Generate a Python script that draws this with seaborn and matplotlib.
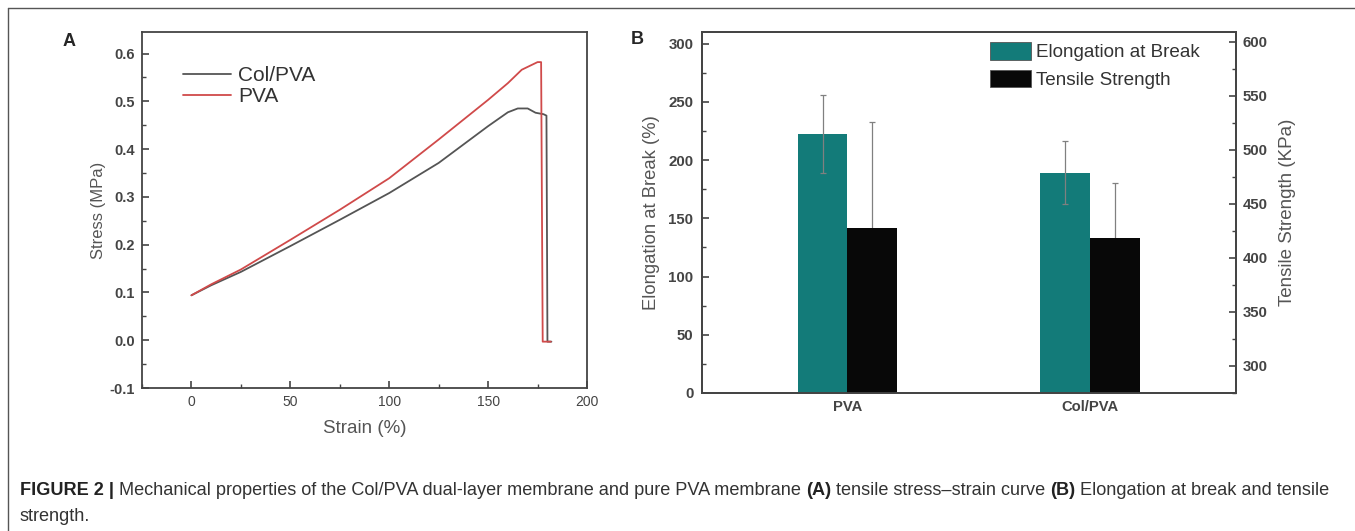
import numpy as np
import pandas as pd
import matplotlib
matplotlib.use("Agg")
import matplotlib.pyplot as plt
from matplotlib.lines import Line2D
from matplotlib.ticker import MultipleLocator
import seaborn as sns

# Panel A: stress-strain curves
colpva_strain = [0, 10, 25, 50, 75, 100, 125, 150, 160, 165, 170, 174, 178, 179.5, 180, 182]
colpva_stress = [0.094, 0.115, 0.143, 0.197, 0.252, 0.308, 0.371, 0.448, 0.477, 0.485,
                 0.485, 0.476, 0.473, 0.470, -0.003, -0.003]
pva_strain = [0, 10, 25, 50, 75, 100, 125, 150, 160, 167, 175, 176.8, 177.6, 181.7]
pva_stress = [0.094, 0.117, 0.148, 0.210, 0.273, 0.339, 0.420, 0.503, 0.538, 0.566,
              0.582, 0.582, -0.003, -0.003]

# Panel B: bars
samples = ["PVA", "Col/PVA"]
elongation = [222, 189]
elongation_err = [33.5, 27]
tensile = [428, 418]
tensile_err = [98, 51.5]

sns.set_theme(style="ticks")
plt.rcParams['font.family'] = ['Liberation Sans', 'DejaVu Sans']
plt.rcParams['xtick.direction'] = 'in'
plt.rcParams['ytick.direction'] = 'in'

W, H = 1355, 531
gray_txt = "#444444"
fig = plt.figure(figsize=(W / 100, H / 100), dpi=100)

# ---------- panel A ----------
axA = fig.add_axes([142 / W, 1 - 388 / H, 445 / W, 356 / H])
curves = pd.concat([
    pd.DataFrame({"strain": colpva_strain, "stress": colpva_stress, "sample": "Col/PVA"}),
    pd.DataFrame({"strain": pva_strain, "stress": pva_stress, "sample": "PVA"}),
])
sns.lineplot(data=curves, x="strain", y="stress", hue="sample", sort=False,
             palette={"Col/PVA": "#555555", "PVA": "#d04a4a"}, linewidth=1.3,
             estimator=None, ax=axA)
axA.set_xlim(-25, 200)
axA.set_ylim(-0.1, 0.645)
axA.xaxis.set_major_locator(MultipleLocator(50))
axA.xaxis.set_minor_locator(MultipleLocator(25))
yt = np.round(np.arange(-0.1, 0.61, 0.1), 1)
axA.set_yticks(yt)
axA.set_yticklabels([f"{v:.1f}" for v in yt])
axA.yaxis.set_minor_locator(MultipleLocator(0.05))
axA.set_xlabel("Strain (%)", fontsize=13.5, color="#555555", labelpad=8)
axA.set_ylabel("Stress (MPa)", fontsize=12, color="#555555", labelpad=3)
axA.tick_params(which="major", length=5, width=1.2, labelcolor=gray_txt, color="#444444", pad=5)
axA.tick_params(axis="x", labelsize=10)
axA.tick_params(axis="y", labelsize=10.5)
axA.tick_params(which="minor", length=3, width=1, color="#444444")
for lab in axA.get_yticklabels():
    lab.set_fontweight("bold")
for s in axA.spines.values():
    s.set_visible(True)
    s.set_color("#444444")
    s.set_linewidth(1.3)
axA.legend(loc="upper left", bbox_to_anchor=((183 - 142) / 445, (388 - 66) / 356), frameon=False,
           fontsize=15, handlelength=2.3, handletextpad=0.33, labelspacing=0.12,
           borderpad=0, borderaxespad=0, labelcolor="#333333")

# ---------- panel B ----------
axB = fig.add_axes([701.7 / W, 1 - 393 / H, 534.3 / W, 361 / H])
axB2 = axB.twinx()
hue_order = ["Elongation at Break", "Tensile Strength"]
colors = {"Elongation at Break": "#137b79", "Tensile Strength": "#080808"}
df_el = pd.DataFrame({"sample": samples, "value": elongation, "series": "Elongation at Break"})
df_ts = pd.DataFrame({"sample": samples, "value": tensile, "series": "Tensile Strength"})

sns.barplot(data=df_el, x="sample", y="value", hue="series", hue_order=hue_order,
            order=samples, palette=colors, width=0.41, dodge=True, saturation=1,
            errorbar=None, linewidth=0, ax=axB, legend=False)
sns.barplot(data=df_ts, x="sample", y="value", hue="series", hue_order=hue_order,
            order=samples, palette=colors, width=0.41, dodge=True, saturation=1,
            errorbar=None, linewidth=0, ax=axB2, legend=False)

# error bars at bar centres
for ax, vals, errs, z in [(axB, elongation, elongation_err, 3), (axB2, tensile, tensile_err, 0)]:
    bars = [p for p in ax.patches if p.get_height() > 0]
    bars = sorted(bars, key=lambda p: p.get_x())
    xs = [p.get_x() + p.get_width() / 2 for p in bars]
    ax.errorbar(xs, vals, yerr=errs, fmt="none", ecolor="#808080", elinewidth=0.9,
                capsize=2.5, capthick=0.9, zorder=z)

axB.set_xlim(-0.6, 1.6)
axB.set_ylim(0, 310)
axB2.set_ylim(275, 609)
axB.yaxis.set_major_locator(MultipleLocator(50))
axB.yaxis.set_minor_locator(MultipleLocator(25))
axB2.set_yticks(np.arange(300, 601, 50))
axB2.yaxis.set_minor_locator(MultipleLocator(25))
axB.set_xlabel("")
axB.set_ylabel("Elongation at Break (%)", fontsize=13.3, color="#555555", labelpad=6)
axB2.set_ylabel("Tensile Strength (KPa)", fontsize=13.5, color="#555555", labelpad=8)
for ax in (axB, axB2):
    ax.tick_params(which="major", length=5, width=1.2, labelsize=10.8, labelcolor=gray_txt,
                   color="#444444", pad=6)
    ax.tick_params(which="minor", length=3, width=1, color="#444444")
    ax.tick_params(axis="x", length=0, labelsize=10.6, pad=5)
    for lab in ax.get_yticklabels() + ax.get_xticklabels():
        lab.set_fontweight("bold")
    for s in ax.spines.values():
        s.set_visible(True)
        s.set_color("#444444")
        s.set_linewidth(1.3)
axB2.tick_params(axis="y", which="both", right=True, left=False, pad=5)

handles = [plt.Rectangle((0, 0), 1, 1, facecolor=colors[k], edgecolor="#555555", linewidth=0.6)
           for k in hue_order]
axB2.legend(handles, hue_order, loc="upper left",
            bbox_to_anchor=((990 - 701.7) / 534.3, (393 - 42) / 361), frameon=False,
            fontsize=13.6, handlelength=2.17, handleheight=1.06, handletextpad=0.25,
            labelspacing=0.44, borderpad=0, borderaxespad=0, labelcolor="#333333")

# panel letters
fig.text(69 / W, 1 - 41.5 / H, "A", fontsize=13, fontweight="bold", ha="center", va="center")
fig.text(637 / W, 1 - 40 / H, "B", fontsize=13, fontweight="bold", ha="center", va="center")

# figure frame (top and left)
fig.add_artist(Line2D([8 / W, 8 / W], [0, 1 - 8 / H], transform=fig.transFigure,
                      color="#555555", linewidth=1))
fig.add_artist(Line2D([8 / W, 1], [1 - 8 / H, 1 - 8 / H], transform=fig.transFigure,
                      color="#555555", linewidth=1))

# caption, bold and regular runs placed one after the other
cap_line1 = [
    ("FIGURE 2 |", "bold"),
    (" Mechanical properties of the Col/PVA dual-layer membrane and pure PVA membrane ", "normal"),
    ("(A)", "bold"),
    (" tensile stress\u2013strain curve ", "normal"),
    ("(B)", "bold"),
    (" Elongation at break and tensile", "normal"),
]
cap_line2 = "strength."
renderer = fig.canvas.get_renderer()


def place_runs(runs, x0, y_px, size, draw=True):
    x = x0
    made = []
    for txt, w in runs:
        t = fig.text(x / W, 1 - y_px / H, txt, fontsize=size, fontweight=w,
                     color="#222222" if w == "bold" else "#333333", va="baseline")
        x = t.get_window_extent(renderer).x1
        made.append(t)
    if not draw:
        for t in made:
            t.remove()
    return x


cap_size = 12
end = place_runs(cap_line1, 20, 495, cap_size, draw=False)
cap_size = cap_size * (1330 - 20) / (end - 20)
place_runs(cap_line1, 20, 495, cap_size)
fig.text(20 / W, 1 - 521 / H, cap_line2, fontsize=cap_size, color="#333333", va="baseline")

fig.savefig("out.png", dpi=100)
